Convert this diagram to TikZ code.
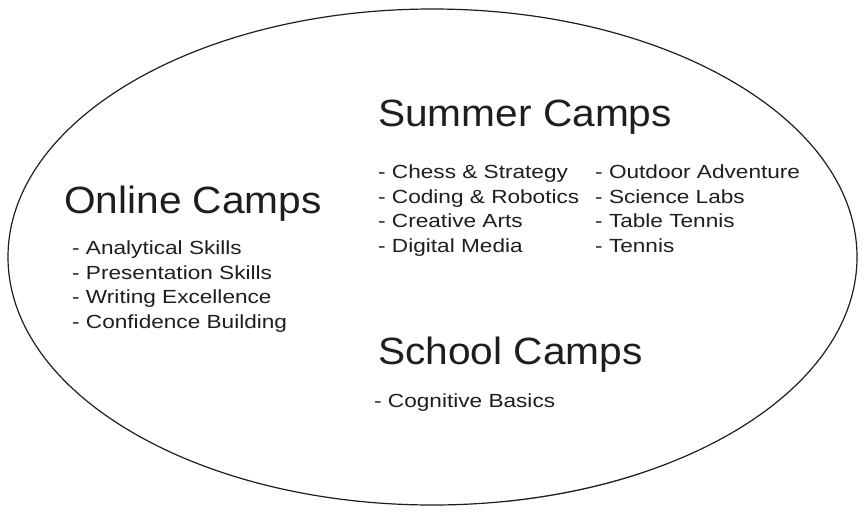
\documentclass[tikz,border=0pt]{standalone}
\usepackage{fontspec}
\setmainfont{Liberation Sans}
\newfontfamily\headfont{Liberation Sans}[FakeStretch=1.07]
\newfontfamily\itemfont{Liberation Sans}[FakeStretch=1.19]
\usetikzlibrary{shapes.geometric}
\definecolor{ink}{HTML}{1E1E1E}
\tikzset{
  heading/.style={anchor=base west, inner sep=0pt, text=ink, font=\headfont\fontsize{38}{40}\selectfont},
  item/.style={anchor=base west, inner sep=0pt, text=ink, font=\itemfont\fontsize{19}{22}\selectfont},
  outline/.style={draw=ink, line width=1.2pt, ellipse, inner sep=0pt, minimum width=849pt, minimum height=496pt}
}
\begin{document}
\begin{tikzpicture}[x=1pt,y=-1pt]
\useasboundingbox[fill=white] (0,0) rectangle (866,514);
\node[outline] (oval) at (432.5,257) {};
\draw[ink, line width=0.5pt, opacity=0.6] (432.5,257) ++(60:424.5 and 248.5) arc[start angle=60, end angle=80, x radius=424.5, y radius=248.5];
% Summer camps
\node[heading] (summer) at (378,126) {Summer Camps};
\node[item] (s1) at (378,178) {- Chess \& Strategy};
\node[item] (s2) at (378,203) {- Coding \& Robotics};
\node[item] (s3) at (378,227) {- Creative Arts};
\node[item] (s4) at (378,252) {- Digital Media};
\node[item] (s5) at (595,178) {- Outdoor Adventure};
\node[item] (s6) at (595,203) {- Science Labs};
\node[item] (s7) at (595,227) {- Table Tennis};
\node[item] (s8) at (595,252) {- Tennis};
% Online camps
\node[heading] (online) at (64,213) {Online Camps};
\node[item] (o1) at (72,254) {- Analytical Skills};
\node[item] (o2) at (72,279) {- Presentation Skills};
\node[item] (o3) at (72,303) {- Writing Excellence};
\node[item] (o4) at (72,328) {- Confidence Building};
% School camps
\node[heading] (school) at (378,364) {School Camps};
\node[item] (c1) at (374,407) {- Cognitive Basics};
\end{tikzpicture}
\end{document}
